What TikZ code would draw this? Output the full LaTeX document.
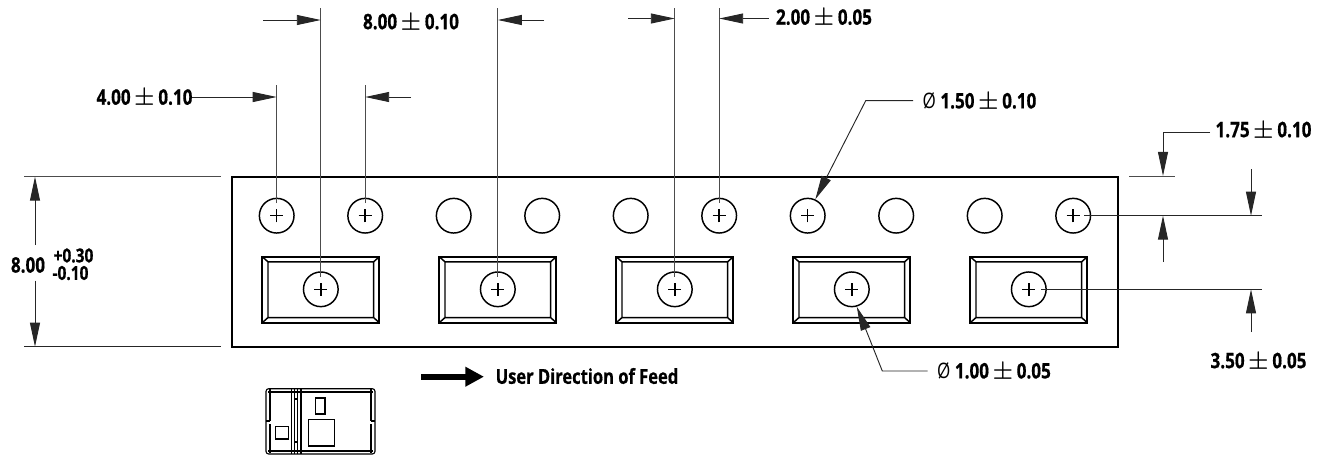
\documentclass[tikz,border=0pt]{standalone}
\usepackage{amsmath,amssymb}
\usepackage{fontspec}
\setmainfont[FakeStretch=0.8,BoldFeatures={FakeBold=0.6}]{Open Sans}
\usetikzlibrary{arrows.meta,calc}
\tikzset{
    x=0.75pt,
    y=-0.75pt,
    >={Triangle[length=18pt,width=7.5pt]},
    dimlabel/.style={font=\bfseries\boldmath\fontsize{16}{18}\selectfont,inner sep=0pt},
    tollabel/.style={font=\bfseries\fontsize{14.5}{16}\selectfont,inner sep=0pt},
    tapebox/.style={draw,line width=1.2pt,minimum width=664.5pt,minimum height=127.5pt,inner sep=0pt},
    emptyhole/.style={draw,circle,line width=1.1pt,minimum size=26pt,inner sep=0pt},
    crosshole/.style={emptyhole,path picture={
        \draw[line width=1.1pt] (-5pt,0pt) -- (5pt,0pt) (0pt,-5pt) -- (0pt,5pt);
    }},
    pocketbox/.style={draw,line width=1.3pt,minimum width=87.75pt,minimum height=49.5pt,inner sep=0pt,path picture={
        \draw[line width=1.1pt] (-39.6pt,-20.9pt) rectangle (39.6pt,20.9pt)
            (-43.9pt,-24.75pt) -- (-39.6pt,-20.9pt) (43.9pt,-24.75pt) -- (39.6pt,-20.9pt)
            (-43.9pt,24.75pt) -- (-39.6pt,20.9pt) (43.9pt,24.75pt) -- (39.6pt,20.9pt);
    }},
    extline/.style={line width=0.7pt,black!70},
    dimline/.style={line width=0.7pt,black!85},
    partline/.style={line width=0.85pt},
}

\begin{document}
\begin{tikzpicture}
            \useasboundingbox (0,0) rectangle (1325,458);

            \node[tapebox] (tape) at (675,261.7) {};

            \node[crosshole] (h1) at (276.7,215.7) {};
            \node[crosshole] (h2) at (365.2,215.7) {};
            \node[emptyhole] (h3) at (453.7,215.7) {};
            \node[emptyhole] (h4) at (542.2,215.7) {};
            \node[emptyhole] (h5) at (630.7,215.7) {};
            \node[crosshole] (h6) at (719.2,215.7) {};
            \node[crosshole] (h7) at (807.7,215.7) {};
            \node[emptyhole] (h8) at (896.2,215.7) {};
            \node[emptyhole] (h9) at (984.7,215.7) {};
            \node[crosshole] (h10) at (1073.2,215.7) {};

            \node[pocketbox] (p1) at (320.8,289.7) {};
            \node[pocketbox] (p2) at (497.8,289.7) {};
            \node[pocketbox] (p3) at (674.8,289.7) {};
            \node[pocketbox] (p4) at (851.8,289.7) {};
            \node[pocketbox] (p5) at (1028.8,289.7) {};

            \node[crosshole] (c1) at (320.8,289.3) {};
            \node[crosshole] (c2) at (497.8,289.3) {};
            \node[crosshole] (c3) at (674.8,289.3) {};
            \node[crosshole] (c4) at (851.8,289.3) {};
            \node[crosshole] (c5) at (1028.8,289.3) {};

            \node[dimlabel] (lblpitch) at (411,23) {8.00\,$\pm$\,0.10};
            \node[dimlabel] (lblhalf) at (144.5,98.5) {4.00\,$\pm$\,0.10};
            \node[dimlabel] (lblslot) at (824,18.5) {2.00\,$\pm$\,0.05};
            \node[dimlabel] (lblhole) at (979.5,102) {{\mdseries Ø} 1.50\,$\pm$\,0.10};
            \node[dimlabel] (lbledge) at (1263.5,131) {1.75\,$\pm$\,0.10};
            \node[dimlabel] (lblpocket) at (1258.5,362) {3.50\,$\pm$\,0.05};
            \node[dimlabel] (lblbore) at (994,372) {{\mdseries Ø} 1.00\,$\pm$\,0.05};
            \node[dimlabel] (lblwidth) at (28,265) {8.00};
            \node[tollabel] (lblplus) at (73.5,255.5) {+0.30};
            \node[tollabel] (lblminus) at (70.5,273) {-0.10};
            \node[dimlabel,font=\bfseries\fontsize{15.5}{17}\selectfont] (lblfeed) at (587,376) {User Direction of Feed};

            \coordinate (t1) at (276.7,85);
            \coordinate (t2) at (320.8,8);
            \coordinate (t3) at (365.2,85);
            \coordinate (t4) at (497.8,8);
            \coordinate (t5) at (674.8,8);
            \coordinate (t6) at (719.2,8);
            \draw[extline,shorten <=9.5pt] (h1.center) -- (t1);
            \draw[extline,shorten <=9.5pt] (c1.center) -- (t2);
            \draw[extline,shorten <=9.5pt] (h2.center) -- (t3);
            \draw[extline,shorten <=9.5pt] (c2.center) -- (t4);
            \draw[extline,shorten <=9.5pt] (c3.center) -- (t5);
            \draw[extline,shorten <=9.5pt] (h6.center) -- (t6);

            \coordinate (a1) at (263,20);
            \coordinate (a2) at (544,20);
            \coordinate (a3) at (628,18.5);
            \coordinate (a4) at (769,18.5);
            \coordinate (a5) at (192,97);
            \coordinate (a6) at (411,97);
            \draw[dimline,->] (a1) -- (a1 -| t2);
            \draw[dimline,->] (a2) -- (a2 -| t4);
            \draw[dimline,->] (a3) -- (a3 -| t5);
            \draw[dimline,->] (a4) -- (a4 -| t6);
            \draw[dimline,->] (a5) -- (a5 -| t1);
            \draw[dimline,->] (a6) -- (a6 -| t3);

            \coordinate (b1) at (913,100.7);
            \coordinate (b2) at (865.7,100.7);
            \draw[dimline,->] (b1) -- (b2) -- (h7.65);
            \coordinate (b3) at (927.7,371);
            \coordinate (b4) at (882.3,371);
            \draw[dimline,->] (b3) -- (b4) -- (c4.-74);

            \coordinate (r1) at (1210,132);
            \coordinate (r2) at (1163,132);
            \draw[dimline,->] (r1) -- (r2) -- (r2 |- tape.north);
            \coordinate (r3) at (1129,176.7);
            \coordinate (r4) at (1175,176.7);
            \draw[extline] (r3) -- (r4);
            \coordinate (r5) at (1262,215.7);
            \coordinate (r6) at (1262,289.3);
            \draw[dimline,shorten <=8.25pt] (h10.center) -- (r5);
            \draw[dimline,shorten <=9.3pt] (c5.center) -- (r6);
            \coordinate (r7) at (1163,262);
            \coordinate (r8) at (1251,169);
            \coordinate (r9) at (1251,332);
            \draw[dimline,->] (r7) -- (r7 |- r5);
            \draw[dimline,->] (r8) -- (r8 |- r5);
            \draw[dimline,->] (r9) -- (r9 |- r6);

            \coordinate (k1) at (24,176.7);
            \coordinate (k2) at (220.7,176.7);
            \coordinate (k3) at (24,346.7);
            \coordinate (k4) at (220.7,346.7);
            \draw[extline] (k1) -- (k2);
            \draw[dimline] (k3) -- (k4);
            \coordinate (k5) at (35,245);
            \coordinate (k6) at (35,280.7);
            \draw[dimline,->] (k5) -- (k5 |- k1);
            \draw[dimline,->] (k6) -- (k6 |- k3);

            \coordinate (f1) at (421,376.7);
            \coordinate (f2) at (484,376.7);
            \draw[line width=4.6pt,-{Triangle[length=14pt,width=14pt]}] (f1) -- (f2);

            \draw[partline,rounded corners=2pt] (266,388.7) rectangle (375,454);
            \draw[partline] (268,392) -- (373,392) (268,451) -- (373,451);
            \draw[partline] (270,389) -- (270,421) (270,424) -- (270,453);
            \draw[partline] (371,389) -- (371,421) (371,424) -- (371,453);
            \draw[partline] (266,421) -- (270,421) (371,421) -- (375,421);
            \draw[partline] (291.7,388.7) -- (291.7,454);
            \draw[partline] (294.3,388.7) -- (294.3,399) (294.3,442) -- (294.3,454);
            \draw[partline] (297.7,388.7) -- (297.7,454);
            \draw[partline] (301,388.7) -- (301,454);
            \draw[partline] (294.3,399) rectangle (297.7,442);
            \draw[partline] (275.3,426.3) rectangle (288.3,439);
            \draw[partline] (315.3,398) rectangle (325,414);
            \draw[partline] (308.3,419.3) rectangle (334.7,446);
        \end{tikzpicture}
\end{document}
